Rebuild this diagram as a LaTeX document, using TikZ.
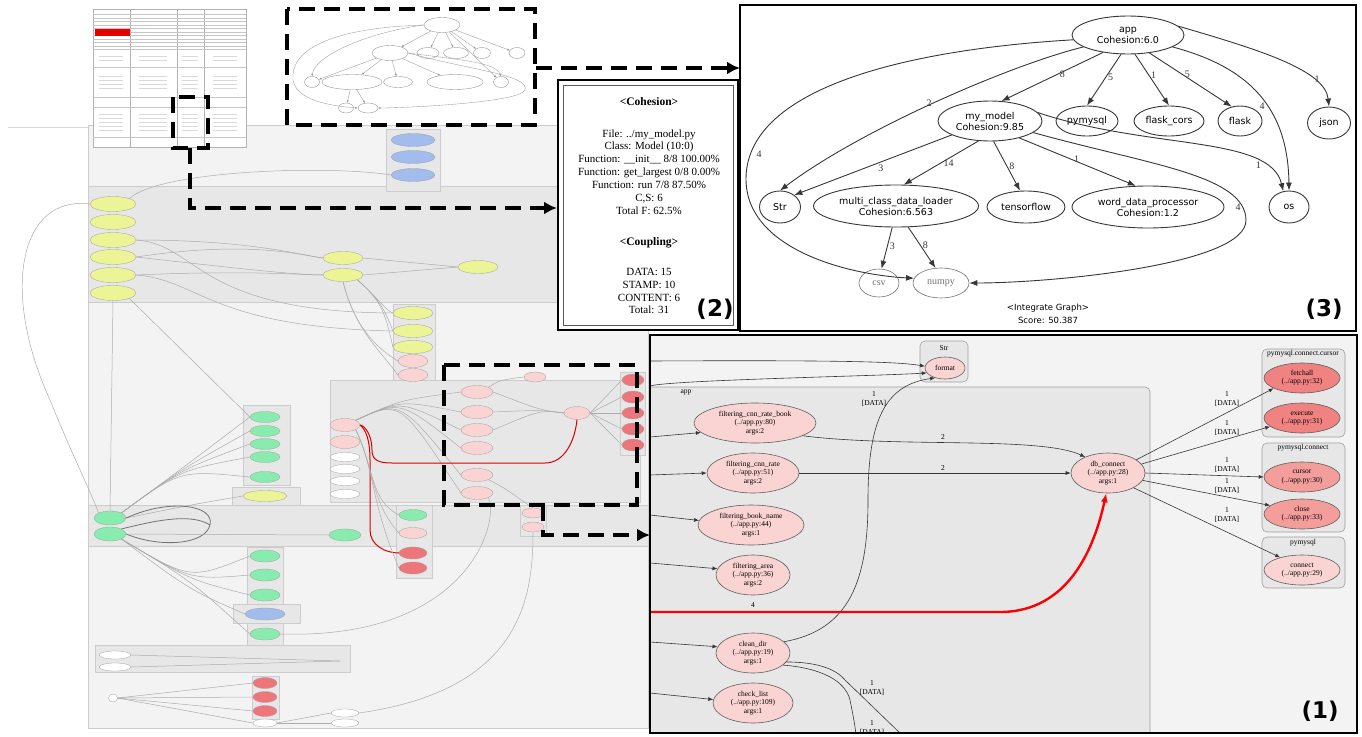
\documentclass[tikz,border=0pt]{standalone}
\usepackage{fontspec}
\setmainfont{Liberation Serif}
\newfontfamily\gsans{DejaVu Sans}
\usetikzlibrary{shapes.geometric,arrows.meta}

\definecolor{fnpink}{RGB}{250,212,210}
\definecolor{fnsalmon}{RGB}{244,158,156}
\definecolor{fnred}{RGB}{240,130,130}
\definecolor{ovyellow}{RGB}{236,245,150}
\definecolor{ovgreen}{RGB}{136,236,174}
\definecolor{ovblue}{RGB}{162,188,238}
\definecolor{ovred}{RGB}{238,118,122}
\definecolor{bggray}{RGB}{243,243,243}
\definecolor{clgray}{RGB}{231,231,231}
\definecolor{ovline}{RGB}{172,172,172}
\definecolor{inkgray}{RGB}{55,55,55}

\tikzset{
  zoomline/.style={line width=3.6pt,dash pattern=on 16pt off 9pt},
  zoomarrow/.style={zoomline,-{Latex[length=13pt,width=13pt]}},
  panelframe/.style={line width=2.6pt},
  gnode/.style={draw=inkgray,line width=0.9pt,ellipse,inner sep=0pt,align=center,font=\gsans\fontsize{9.5}{11}\selectfont},
  gedge/.style={draw=inkgray,line width=0.9pt,-{Latex[length=8pt,width=6pt]}},
  glabel/.style={font=\fontsize{10}{10}\selectfont,inner sep=2pt,text=inkgray},
  fnode/.style={draw=inkgray!80,line width=0.6pt,ellipse,inner sep=0pt,align=center,fill=fnpink,font=\fontsize{7.5}{8.3}\selectfont},
  fedge/.style={draw=inkgray,line width=0.6pt,-{Latex[length=5pt,width=4pt]}},
  flabel/.style={font=\fontsize{7.5}{8.3}\selectfont,align=center,inner sep=0pt},
  cluster/.style={draw=gray!75,fill=clgray,rounded corners=5pt,line width=0.6pt},
  mini/.style={draw=gray!75,line width=0.3pt,ellipse,inner sep=0pt,minimum width=40pt,minimum height=13pt},
  ovedge/.style={draw=ovline,line width=0.5pt},
  ovbox/.style={draw=gray!40,fill=clgray,line width=0.4pt},
  thumb/.style={draw=gray!80,line width=0.4pt,ellipse,inner sep=0pt},
  tedge/.style={draw=gray!80,line width=0.35pt,-{Latex[length=2.5pt,width=2pt]}},
  tag/.style={font=\gsans\bfseries\fontsize{23}{23}\selectfont,inner sep=0pt},
  cellframe/.style={draw=gray!60!black,line width=0.7pt,double=white,double distance=1.2pt},
  p2head/.style={font=\bfseries\fontsize{11.5}{13}\selectfont,inner sep=0pt},
  p2body/.style={font=\fontsize{11}{12.9}\selectfont,align=center,inner sep=0pt}
}

\begin{document}
\begin{tikzpicture}[x=1pt,y=-1pt]
\useasboundingbox (0,0) rectangle (1362,736);
\fill[white] (0,0) rectangle (1362,736);

\draw[gray!30,line width=1pt] (8,127) -- (88,127);
\fill[bggray] (88,125) rectangle (648,728);
\draw[gray!40,line width=0.5pt] (88,125) rectangle (648,728);
\draw[ovbox] (88,186) rectangle (648,302);
\draw[ovbox] (386,129) rectangle (440,191);
\draw[ovbox] (393,304) rectangle (435,386);
\draw[ovbox] (330,380) rectangle (640,502);
\draw[ovbox] (243,405) rectangle (290,485);
\draw[ovbox] (232,487) rectangle (300,505);
\draw[ovbox] (88,505) rectangle (648,546);
\draw[ovbox] (247,547) rectangle (283,645);
\draw[ovbox] (233,604) rectangle (300,623);
\draw[ovbox] (396,505) rectangle (432,578);
\draw[ovbox] (520,505) rectangle (546,536);
\draw[ovbox] (95,645) rectangle (350,672);
\draw[ovbox] (252,676) rectangle (279,719);
\draw[ovbox] (620,372) rectangle (645,455);

\draw[gray!60,fill=white,line width=0.8pt] (93,9) rectangle (246,147);
\foreach \x in {130,177,204} \draw[gray!60,line width=0.6pt] (\x,9) -- (\x,147);
\foreach \y in {14,18,21,25,28,32,35,39,42,46,49,67,97,107,137} \draw[gray!45,line width=0.4pt] (93,\y) -- (246,\y);
\fill[red!90!black] (95,29) rectangle (130,35.5);
\foreach \x/\w in {111/12,153/14,190/8,225/12} \foreach \y in {56,60,76,80,84,88,114,118,122,126,130} \draw[gray!30,line width=1pt] (\x-\w,\y) -- (\x+\w,\y);

\node[thumb,minimum width=36pt,minimum height=15pt] (ta) at (442,25) {};
\node[thumb,minimum width=36pt,minimum height=15pt] (tm) at (390,53) {};
\node[thumb,minimum width=22pt,minimum height=11pt] (tp) at (428,53) {};
\node[thumb,minimum width=25pt,minimum height=11pt] (tfc) at (456,53) {};
\node[thumb,minimum width=17pt,minimum height=11pt] (tfl) at (482,53) {};
\node[thumb,minimum width=16pt,minimum height=11pt] (tj) at (517,53) {};
\node[thumb,minimum width=15pt,minimum height=11pt] (ts) at (312,82) {};
\node[thumb,minimum width=60pt,minimum height=15pt] (tl) at (352,82) {};
\node[thumb,minimum width=29pt,minimum height=11pt] (tt) at (398,82) {};
\node[thumb,minimum width=56pt,minimum height=15pt] (tw) at (455,82) {};
\node[thumb,minimum width=15pt,minimum height=11pt] (tos) at (501,82) {};
\node[thumb,minimum width=15pt,minimum height=10pt] (tc) at (346,108) {};
\node[thumb,minimum width=20pt,minimum height=10pt] (tn) at (368,108) {};
\foreach \nm in {tm,tp,tfc,tfl,tj,tos} \draw[tedge] (ta) -- (\nm);
\draw[tedge] (ta.west) .. controls (370,32) and (315,55) .. (ts.north);
\draw[tedge] (ta.west) .. controls (330,28) and (290,50) .. (293,80) .. controls (296,100) and (330,106) .. (tn.west);
\foreach \nm in {ts,tl,tt,tw} \draw[tedge] (tm) -- (\nm);
\draw[tedge] (tm.east) .. controls (460,60) and (495,62) .. (tos.north);
\draw[tedge] (tm.east) .. controls (470,70) and (530,75) .. (525,90) .. controls (520,103) and (400,108) .. (tn.east);
\draw[tedge] (tl) -- (tc);
\draw[tedge] (tl) -- (tn);

\foreach \i/\y in {1/140,2/157,3/175} \node[mini,fill=ovblue,minimum width=44pt] (bl\i) at (413,\y) {};
\foreach \i/\y in {1/204,2/222,3/240,4/257,5/275,6/293} \node[mini,fill=ovyellow,minimum width=46pt,minimum height=15pt] (yl\i) at (113,\y) {};
\node[mini,fill=ovyellow] (ym1) at (343,258) {};
\node[mini,fill=ovyellow] (ym2) at (343,275) {};
\node[mini,fill=ovyellow] (ym3) at (478,267) {};
\foreach \i/\y in {1/313,2/331,3/347} \node[mini,fill=ovyellow] (yc\i) at (413,\y) {};
\foreach \i/\y in {1/361,2/375} \node[mini,fill=fnpink,minimum width=30pt] (pc\i) at (413,\y) {};
\foreach \i/\y in {1/425,2/442} \node[mini,fill=fnpink,minimum width=30pt] (pm\i) at (345,\y) {};
\foreach \i/\y in {1/457,2/469,3/481,4/494} \node[mini,fill=white,minimum width=30pt,minimum height=9pt] (wm\i) at (345,\y) {};
\foreach \i/\y in {1/392,2/412,3/430,4/448,5/475,6/493} \node[mini,fill=fnpink,minimum width=32pt] (pa\i) at (477,\y) {};
\node[mini,fill=fnpink,minimum width=22pt,minimum height=10pt] (ps) at (535,377) {};
\node[mini,fill=fnpink,minimum width=26pt] (dbm) at (577,413) {};
\foreach \i/\y in {1/380,2/397,3/413,4/429,5/445} \node[mini,fill=ovred,minimum width=22pt,minimum height=12pt] (rc\i) at (633,\y) {};
\foreach \i/\y in {1/417,2/431,3/444,4/457,5/477} \node[mini,fill=ovgreen,minimum width=30pt,minimum height=11pt] (gc\i) at (265,\y) {};
\node[mini,fill=ovyellow,minimum width=44pt,minimum height=11pt] (yb) at (265,496) {};
\node[mini,fill=ovgreen,minimum width=32pt,minimum height=14pt] (g1) at (110,518) {};
\node[mini,fill=ovgreen,minimum width=32pt,minimum height=14pt] (g2) at (110,534) {};
\node[mini,fill=ovgreen,minimum width=32pt,minimum height=12pt] (gm2) at (345,535) {};
\foreach \i/\y in {1/556,2/575,3/595,4/634} \node[mini,fill=ovgreen,minimum width=30pt,minimum height=12pt] (gl\i) at (265,\y) {};
\node[mini,fill=ovblue,minimum width=40pt,minimum height=12pt] (blb) at (265,614) {};
\node[mini,fill=ovgreen,minimum width=28pt,minimum height=11pt] (gm1) at (413,515) {};
\node[mini,fill=fnpink,minimum width=28pt,minimum height=11pt] (pk1) at (413,533) {};
\node[mini,fill=ovred,minimum width=28pt,minimum height=12pt] (rd1) at (413,553) {};
\node[mini,fill=ovred,minimum width=28pt,minimum height=12pt] (rd2) at (413,568) {};
\node[mini,fill=fnpink,minimum width=22pt,minimum height=10pt] (ppa) at (533,513) {};
\node[mini,fill=fnpink,minimum width=22pt,minimum height=10pt] (ppb) at (533,527) {};
\node[mini,fill=white,minimum width=32pt,minimum height=8pt] (wb1) at (115,655) {};
\node[mini,fill=white,minimum width=32pt,minimum height=8pt] (wb2) at (115,667) {};
\node[mini,fill=white,minimum width=9pt,minimum height=8pt] (wn) at (113,698) {};
\foreach \i/\y in {1/683,2/697,3/711} \node[mini,fill=ovred,minimum width=24pt,minimum height=11pt] (rb\i) at (265,\y) {};
\node[mini,fill=white,minimum width=24pt,minimum height=8pt] (wb3) at (265,723) {};
\node[mini,fill=white,minimum width=28pt,minimum height=8pt] (wr1) at (345,713) {};
\node[mini,fill=white,minimum width=28pt,minimum height=8pt] (wr2) at (345,723) {};
\coordinate (wbend) at (340,661);

\draw[ovedge] (yl1.west) .. controls (20,195) and (0,290) .. (50,400) .. controls (70,450) and (90,490) .. (g1.north west);
\draw[ovedge] (yl1.north east) .. controls (160,170) and (330,165) .. (bl3.west);
\foreach \i in {3,4} \draw[ovedge] (yl\i.east) .. controls (250,240) and (300,255) .. (ym1.west);
\foreach \i in {4,5} \draw[ovedge] (yl\i.east) .. controls (250,270) and (300,275) .. (ym2.west);
\draw[ovedge] (ym1.east) -- (ym3.west);
\draw[ovedge] (ym2.east) -- (ym3.west);
\foreach \i in {1,2,3} \draw[ovedge] (ym2.south east) .. controls (380,300) and (385,310) .. (yc\i.west);
\foreach \i in {1,2} \draw[ovedge] (ym2.south) .. controls (355,330) and (380,350) .. (pc\i.west);
\draw[ovedge] (yl3.east) .. controls (200,245) and (195,312) .. (yc1.west);
\draw[ovedge] (yl5.east) .. controls (200,280) and (210,327) .. (yc2.west);
\draw[ovedge] (yl6.south east) -- (gc1.west);
\draw[ovedge] (yl6.south) -- (g1.north);
\foreach \i in {1,...,5} \draw[ovedge] (g1.north east) .. controls (180,470) .. (gc\i.west);
\draw[ovedge] (g1.east) .. controls (190,505) .. (yb.west);
\draw[inkgray!70,line width=0.8pt] (g1.east) .. controls (170,498) and (215,505) .. (210,525) .. controls (205,545) and (160,548) .. (g2.east);
\draw[inkgray!70,line width=0.8pt] (g2.north east) .. controls (150,522) and (190,512) .. (210,525);
\foreach \i in {1,2,3,4} \draw[ovedge] (g2.south east) .. controls (190,580) .. (gl\i.west);
\draw[ovedge] (g2.south east) .. controls (190,590) .. (blb.west);
\draw[ovedge] (g2.east) -- (gm2.west);
\foreach \i in {1,...,6} \draw[ovedge] (pm1.north east) .. controls (400,400) .. (pa\i.west);
\foreach \i in {1,2,3} \draw[ovedge] (pa\i.east) .. controls (540,410) .. (dbm.west);
\draw[ovedge] (pa1.north east) .. controls (500,380) .. (ps.west);
\foreach \i in {1,...,5} \draw[ovedge] (dbm.east) -- (rc\i.west);
\draw[red!85!black,line width=1pt] (pm1.east) .. controls (365,426) and (372,435) .. (372,450) .. controls (372,460) and (378,463) .. (392,463) -- (545,463) .. controls (565,463) and (575,440) .. (dbm.south);
\draw[red!85!black,line width=1pt] (pm1.east) .. controls (366,430) and (370,440) .. (370,460) -- (370,530) .. controls (370,545) and (385,553) .. (rd1.west);
\foreach \nm in {gm1,pk1,rd2} \draw[ovedge] (pm1.south east) .. controls (375,470) and (370,500) .. (\nm.west);
\draw[ovedge] (pa5.south east) .. controls (510,490) and (520,500) .. (ppa.north);
\draw[ovedge] (pa6.south east) .. controls (500,520) and (470,640) .. (gl4.east);
\draw[ovedge] (wb1.east) -- (wbend);
\draw[ovedge] (wb2.east) -- (wbend);
\foreach \nm in {rb1,rb2,rb3,wb3} \draw[ovedge] (wn.east) -- (\nm.west);
\draw[ovedge] (wb3.east) -- (wr2.west);
\draw[ovedge] (wb3.east) -- (wr1.west);
\draw[ovedge] (ppb.south) .. controls (533,600) and (520,690) .. (wr1.east);

\fill[white] (558,80) rectangle (738,330);
\draw[line width=2.6pt] (558,80) rectangle (738,330);
\draw[gray!70!black,line width=0.8pt] (563,85) rectangle (733,325);
\foreach \ya/\yb in {88/117,120/227,230/256,259/322} \draw[cellframe] (566,\ya) rectangle (730,\yb);
\node[p2head] (cohh) at (649,102) {<Cohesion>};
\node[p2body] (cohb) at (649,172) {File: ../my\_model.py\\Class: Model (10:0)\\Function: \_\_init\_\_ 8/8 100.00\%\\Function: get\_largest 0/8 0.00\%\\Function: run 7/8 87.50\%\\C,S: 6\\Total F: 62.5\%};
\node[p2head] (couh) at (649,243) {<Coupling>};
\node[p2body] (coub) at (649,291) {DATA: 15\\STAMP: 10\\CONTENT: 6\\Total: 31};
\node[tag] (tag2) at (715,309) {(2)};

\fill[white] (740,5) rectangle (1356,331);
\draw[panelframe] (740,5) rectangle (1356,331);
\node[gnode,minimum width=112pt,minimum height=38pt] (app) at (1128,35) {app\\Cohesion:6.0};
\node[gnode,minimum width=104pt,minimum height=40pt] (model) at (990,121) {my\_model\\Cohesion:9.85};
\node[gnode,minimum width=62pt,minimum height=30pt] (pymysql) at (1087,121) {pymysql};
\node[gnode,minimum width=70pt,minimum height=30pt] (cors) at (1169,121) {flask\_cors};
\node[gnode,minimum width=44pt,minimum height=30pt] (flask) at (1240,121) {flask};
\node[gnode,minimum width=43pt,minimum height=32pt] (json) at (1329,123) {json};
\node[gnode,minimum width=41pt,minimum height=32pt] (str) at (780,207) {Str};
\node[gnode,minimum width=165pt,minimum height=42pt] (loader) at (896,206) {multi\_class\_data\_loader\\Cohesion:6.563};
\node[gnode,minimum width=78pt,minimum height=32pt] (tf) at (1026,207) {tensorflow};
\node[gnode,minimum width=152pt,minimum height=42pt] (wdp) at (1148,207) {word\_data\_processor\\Cohesion:1.2};
\node[gnode,minimum width=40pt,minimum height=32pt] (os) at (1289,207) {os};
\node[gnode,draw=gray!90!black,line width=0.6pt,text=gray!90!black,font=\fontsize{10}{11}\selectfont,minimum width=40pt,minimum height=28pt] (csv) at (879,283) {csv};
\node[gnode,draw=gray!90!black,line width=0.6pt,text=gray!90!black,font=\fontsize{10}{11}\selectfont,minimum width=56pt,minimum height=30pt] (numpy) at (941,283) {numpy};
\node[font=\gsans\fontsize{8.5}{13}\selectfont,align=center] (score) at (1048,314) {<Integrate Graph>\\Score: 50.387};
\node[tag] (tag3) at (1324,309) {(3)};

\draw[gedge] (app.215) -- node[glabel,right,pos=0.45] {8} (model.60);
\draw[gedge] (app.250) -- node[glabel,right,pos=0.45] {5} (pymysql.north);
\draw[gedge] (app.290) -- node[glabel,right,pos=0.4] {1} (cors.north);
\draw[gedge] (app.320) -- node[glabel,right,pos=0.4] {5} (flask.120);
\draw[gedge] (app.10) .. controls (1260,50) and (1325,70) .. node[glabel,right,pos=0.72] {1} (json.north);
\draw[gedge] (app.345) .. controls (1240,65) and (1288,100) .. node[glabel,left,pos=0.6] {4} (os.north);
\draw[gedge] (app.195) .. controls (1010,65) and (860,130) .. node[glabel,left,pos=0.5] {2} (str.north);
\draw[gedge] (app.185) .. controls (900,50) and (745,90) .. node[glabel,right,pos=0.9,xshift=4pt] {4} (746,180) .. controls (747,250) and (850,275) .. (numpy.170);
\draw[gedge] (model.200) -- node[glabel,below,pos=0.45] {3} (str.40);
\draw[gedge] (model.240) -- node[glabel,right,pos=0.5] {14} (loader.70);
\draw[gedge] (model.280) -- node[glabel,right,pos=0.5] {8} (tf.110);
\draw[gedge] (model.330) -- node[glabel,right,pos=0.45] {1} (wdp.120);
\draw[gedge] (model.10) .. controls (1150,150) and (1270,135) .. node[glabel,left,pos=0.8] {1} (os.110);
\draw[gedge] (model.345) .. controls (1150,165) and (1245,175) .. node[glabel,left,pos=0.9] {4} (1246,220) .. controls (1247,265) and (1050,283) .. (numpy.east);
\draw[gedge] (loader.260) -- node[glabel,right,pos=0.45] {3} (csv.80);
\draw[gedge] (loader.300) -- node[glabel,right,pos=0.45] {8} (numpy.110);

\begin{scope}
\clip (650,335) rectangle (1357,733);
\fill[bggray] (650,335) rectangle (1357,733);
\draw[cluster] (600,387) rectangle (1150,780);
\node[flabel] (appc) at (686,393) {app};
\draw[cluster] (920,341) rectangle (968,382);
\node[flabel] (strc) at (944,348) {Str};
\draw[cluster] (1262,349) rectangle (1345,437);
\node[flabel] (curc) at (1303,354) {pymysql.connect.cursor};
\draw[cluster] (1262,443) rectangle (1345,532);
\node[flabel] (conc) at (1303,448) {pymysql.connect};
\draw[cluster] (1262,537) rectangle (1345,588);
\node[flabel] (pymc) at (1303,543) {pymysql};

\node[fnode,minimum width=122pt,minimum height=40pt] (frb) at (755,423) {filtering\_cnn\_rate\_book\\(../app.py:80)\\args:2};
\node[fnode,minimum width=92pt,minimum height=40pt] (fr) at (753,473) {filtering\_cnn\_rate\\(../app.py:51)\\args:2};
\node[fnode,minimum width=106pt,minimum height=40pt] (fbn) at (751,525) {filtering\_book\_name\\(../app.py:44)\\args:1};
\node[fnode,minimum width=74pt,minimum height=40pt] (fa) at (753,575) {filtering\_area\\(../app.py:36)\\args:2};
\node[fnode,minimum width=74pt,minimum height=40pt] (cd) at (753,653) {clean\_dir\\(../app.py:19)\\args:1};
\node[fnode,minimum width=80pt,minimum height=40pt] (cl) at (753,703) {check\_list\\(../app.py:109)\\args:1};
\node[fnode,minimum width=74pt,minimum height=40pt] (db) at (1108,473) {db\_connect\\(../app.py:28)\\args:1};
\node[fnode,minimum width=40pt,minimum height=22pt] (fmt) at (945,368) {format};
\node[fnode,fill=fnred,minimum width=76pt,minimum height=30pt] (fetch) at (1302,378) {fetchall\\(../app.py:32)};
\node[fnode,fill=fnred,minimum width=76pt,minimum height=30pt] (exec) at (1302,418) {execute\\(../app.py:31)};
\node[fnode,fill=fnsalmon,minimum width=76pt,minimum height=30pt] (cursor) at (1302,477) {cursor\\(../app.py:30)};
\node[fnode,fill=fnsalmon,minimum width=76pt,minimum height=30pt] (close) at (1302,514) {close\\(../app.py:33)};
\node[fnode,minimum width=76pt,minimum height=30pt] (conn) at (1302,570) {connect\\(../app.py:29)};

\coordinate (in1) at (650,437);
\coordinate (in2) at (650,475);
\coordinate (in3) at (650,515);
\coordinate (in4) at (650,563);
\coordinate (in5) at (650,642);
\coordinate (in6) at (650,693);
\coordinate (in7) at (650,361);
\coordinate (in8) at (650,386);
\coordinate (in9) at (650,612);
\coordinate (out1) at (902,735);
\coordinate (out2) at (856,735);

\draw[fedge] (in1) -- (frb.190);
\draw[fedge] (in2) -- (fr.west);
\draw[fedge] (in3) -- (fbn.175);
\draw[fedge] (in4) -- (fa.170);
\draw[fedge] (in5) -- (cd.170);
\draw[fedge] (in6) -- (cl.175);
\draw[fedge] (in7) .. controls (850,360) and (900,362) .. (fmt.175);
\draw[fedge] (in8) .. controls (670,380) and (880,376) .. (fmt.195);
\draw[fedge] (cd.20) .. controls (850,630) and (868,580) .. (868,500) .. controls (868,420) and (885,385) .. (fmt.225);
\node[flabel] (lbf) at (874,399) {1\\{[DATA]}};
\draw[fedge] (frb.345) .. controls (900,448) and (1040,436) .. (db.145);
\node[flabel] (lb2a) at (943,437) {2};
\draw[fedge] (fr.east) -- (db.west);
\node[flabel] (lb2b) at (943,468) {2};
\draw[red,line width=2.4pt,-{Latex[length=9pt,width=7pt]}] (in9) -- (1000,612) .. controls (1070,612) and (1095,545) .. (db.265);
\node[flabel] (lb4) at (753,605) {4};
\draw[fedge] (db.25) -- (fetch.200);
\draw[fedge] (db.15) -- (exec.195);
\draw[fedge] (db.east) -- (cursor.west);
\draw[fedge] (db.-12) -- (close.165);
\draw[fedge] (db.-30) -- (conn.150);
\foreach \nm/\y in {la/399,lb/428,lc/465,ld/486,le/515} \node[flabel] (\nm) at (1227,\y) {1\\{[DATA]}};
\draw[fedge,-] (cd.-15) .. controls (815,662) and (835,668) .. (845,680) -- (out1);
\draw[fedge,-] (cd.-22) .. controls (820,668) and (845,680) .. (850,700) .. controls (853,715) and (855,725) .. (out2);
\node[flabel] (lbg) at (872,688) {1\\{[DATA]}};
\node[flabel] (lbh) at (872,728) {1\\{[DATA]}};
\end{scope}
\draw[panelframe] (650,335) rectangle (1357,733);
\node[tag] (tag1) at (1320,711) {(1)};

\draw[zoomline] (287,9) rectangle (535,125);
\draw[zoomline] (173,97) rectangle (208,148);
\draw[zoomline] (444,365) rectangle (637,505);
\coordinate (thumbout) at (536,68);
\coordinate (p3in) at (740,68);
\coordinate (cellout) at (190,148);
\coordinate (p2in) at (557,208);
\coordinate (regout) at (543,505);
\coordinate (p1in) at (650,535);
\draw[zoomarrow] (thumbout) -- (p3in);
\draw[zoomarrow] (cellout) |- (p2in);
\draw[zoomarrow] (regout) |- (p1in);
\end{tikzpicture}
\end{document}
